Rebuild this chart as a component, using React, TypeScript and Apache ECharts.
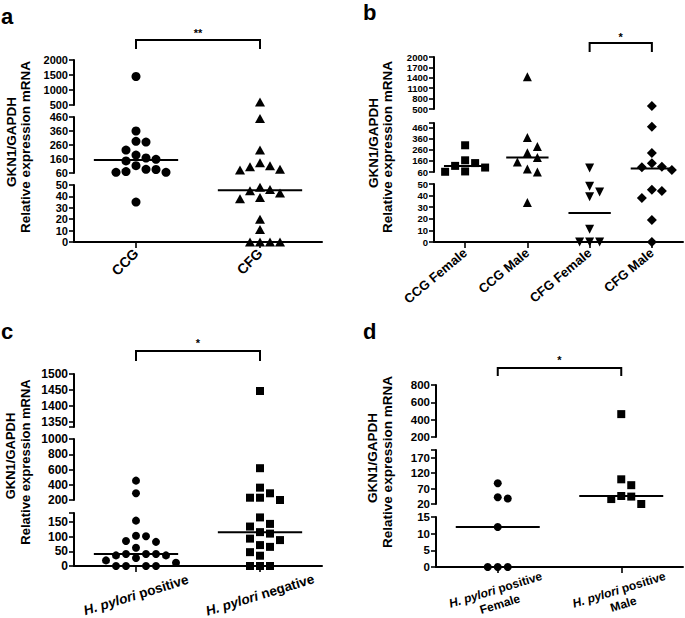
import React, { useEffect, useRef } from "react";
import * as echarts from "echarts";

const FONT = '"Liberation Sans", Arial, Helvetica, sans-serif';

// ---------------- data ----------------
const yTitleLines = ["GKN1/GAPDH", "Relative expression mRNA"];

// panel a
const aCategories = ["CCG", "CFG"];
const aCCG = [1450, 360, 286, 281, 224, 188, 167, 158, 146, 112, 86, 85, 70, 65, 65, 35];
const aCFG = [600, 450, 224, 134, 112, 105, 86, 81, 48, 46, 45, 43, 39, 38, 20, 11, 0, 0, 0, 0];
const aRanges = [[500, 2000], [60, 460], [0, 50]];
const aTickLabels = [[500, 1000, 1500, 2000], [60, 160, 260, 360, 460], [0, 10, 20, 30, 40, 50]];
const aSignif = "**";

// panel b
const bCategories = ["CCG Female", "CCG Male", "CFG Female", "CFG Male"];
const bCCGFemale = [300, 165, 140, 115, 100, 65, 62];
const bCCGMale = [1430, 369, 290, 233, 190, 149, 87, 60, 34];
const bCFGFemale = [95, 48, 43, 39, 11, 0, 0, 0];
const bCFGMale = [590, 466, 230, 139, 108, 103, 78, 45, 44, 38, 19, 0];
const bRanges = [[500, 2000], [60, 500], [0, 50]];
const bTickLabels = [[500, 800, 1100, 1400, 1700, 2000], [60, 160, 260, 360, 460], [0, 10, 20, 30, 40, 50]];
const bSignif = "*";

// panel c
const cCategories = ["H. pylori positive", "H. pylori negative"];
const cPositive = [454, 288, 154, 103, 101, 85, 82, 62, 41, 41, 41, 36, 36, 27, 19, 11, 0, 0, 0, 0];
const cNegative = [1447, 617, 362, 288, 230, 230, 200, 165, 143, 134, 115, 110, 93, 88, 71, 65, 47, 35, 0, 0, 0];
const cRanges = [[1335, 1500], [200, 1000], [0, 180]];
const cTickLabels = [[1350, 1400, 1450, 1500], [200, 400, 600, 800, 1000], [0, 50, 100, 150]];
const cSignif = "*";

// panel d
const dCategories = ["H. pylori positive\nFemale", "H. pylori positive\nMale"];
const dFemale = [87, 42, 38, 12, 0, 0, 0];
const dMale = [464, 100, 81, 46, 44, 36, 20];
const dRanges = [[200, 800], [20, 195], [0, 15]];
const dTickLabels = [[200, 400, 600, 800], [20, 70, 120, 170], [0, 5, 10, 15]];
const dSignif = "*";

// ---------------- layout / style ----------------
const SPACING = 10;
const MIN_DIST = 9.6;
const MED_HALF = 0.34;

const italicFmt = (v: string) => v.replace("H. pylori", "{i|H. pylori}");

const panels: any[] = [
  {
    letter: "a", letterXY: [1, 27],
    left: 74, width: 248,
    segPx: [[60, 105], [117, 173], [185, 242]],
    categories: aCategories,
    groups: [
      { values: aCCG, symbol: "circle", size: 9 },
      { values: aCFG, symbol: "triangle", size: [10, 9] },
    ],
    ranges: aRanges, ticks: aTickLabels, tickFont: 11,
    xl: { rotate: 45, align: "right", verticalAlign: "middle", margin: 9, fontSize: 14 },
    fmt: null,
    titleX: [11, 25], titleY: [142, 147], titleFont: 13.5,
    bracket: { pair: [0, 1], top: 40, bottom: 49, label: aSignif, labelY: 33 },
  },
  {
    letter: "b", letterXY: [363, 23.5],
    left: 434, width: 249,
    segPx: [[57, 109], [123, 172], [184, 242]],
    categories: bCategories,
    groups: [
      { values: bCCGFemale, symbol: "rect", size: 8 },
      { values: bCCGMale, symbol: "triangle", size: [9, 9] },
      { values: bCFGFemale, symbol: "triangle", size: [9, 9], rotate: 180 },
      { values: bCFGMale, symbol: "diamond", size: [10, 10] },
    ],
    ranges: bRanges, ticks: bTickLabels, tickFont: 9.5,
    xl: { rotate: 40, align: "right", verticalAlign: "middle", margin: 9, fontSize: 13 },
    fmt: null,
    titleX: [373.5, 387], titleY: [143, 147], titleFont: 13.5,
    bracket: { pair: [2, 3], top: 43, bottom: 52, label: bSignif, labelY: 37 },
  },
  {
    letter: "c", letterXY: [1, 342.5],
    left: 74, width: 248,
    segPx: [[374, 427], [439, 500], [513, 566]],
    categories: cCategories,
    groups: [
      { values: cPositive, symbol: "circle", size: 8 },
      { values: cNegative, symbol: "rect", size: 8 },
    ],
    ranges: cRanges, ticks: cTickLabels, tickFont: 12,
    xl: { rotate: 17, align: "center", verticalAlign: "middle", margin: 29, fontSize: 13.5 },
    fmt: italicFmt,
    titleX: [10.5, 25], titleY: [456, 462], titleFont: 13,
    bracket: { pair: [0, 1], top: 351, bottom: 361, label: cSignif, labelY: 343 },
  },
  {
    letter: "d", letterXY: [363, 342.5],
    left: 436, width: 247,
    segPx: [[385, 437], [450, 504], [517, 567]],
    categories: dCategories,
    groups: [
      { values: dFemale, symbol: "circle", size: 8 },
      { values: dMale, symbol: "rect", size: 8 },
    ],
    ranges: dRanges, ticks: dTickLabels, tickFont: 11.5,
    xl: { rotate: 17, align: "center", verticalAlign: "middle", margin: 30, fontSize: 12, lineHeight: 15 },
    fmt: italicFmt,
    titleX: [372, 387], titleY: [458, 462], titleFont: 13.5,
    bracket: { pair: [0, 1], top: 368, bottom: 376, label: dSignif, labelY: 360 },
  },
];

function segmentOf(ranges: number[][], v: number): number {
  let best = 0;
  let bestD = Infinity;
  ranges.forEach(([lo, hi], s) => {
    const d = v < lo ? lo - v : v > hi ? v - hi : 0;
    if (d < bestD) { bestD = d; best = s; }
  });
  return best;
}

function median(vals: number[]): number {
  const s = [...vals].sort((a, b) => a - b);
  const m = Math.floor(s.length / 2);
  return s.length % 2 ? s[m] : (s[m - 1] + s[m]) / 2;
}

function buildOption(offsets: number[][][] | null, bracketXs: number[][] | null) {
  const grid: any[] = [], xAxis: any[] = [], yAxis: any[] = [], series: any[] = [], graphic: any[] = [];
  const meta: any[] = [];
  panels.forEach((p, pi) => {
    const n = p.categories.length;
    const xIdx: number[] = [], yIdx: number[] = [];
    p.segPx.forEach(([top, bottom]: number[], s: number) => {
      const gi = grid.length;
      grid.push({ left: p.left, top, width: p.width, height: bottom - top, containLabel: false, outerBoundsMode: "none" });
      xIdx.push(xAxis.length);
      xAxis.push({ type: "value", gridIndex: gi, min: -0.5, max: n - 0.5, show: false, position: "bottom" });
      yIdx.push(yAxis.length);
      const [lo, hi] = p.ranges[s];
      const labels = p.ticks[s];
      const tickVals = Array.from(new Set([lo, ...labels, hi]));
      yAxis.push({
        type: "value", gridIndex: gi, min: lo, max: hi, position: "left",
        axisLine: { show: true, onZero: false, lineStyle: { color: "#000", width: 2 } },
        axisTick: { show: true, customValues: tickVals, length: 5, inside: false, lineStyle: { color: "#000", width: 1.6 } },
        axisLabel: {
          show: true, customValues: labels, showMinLabel: true, showMaxLabel: true, hideOverlap: false,
          formatter: (v: number) => String(v),
          margin: 6, color: "#000", fontFamily: FONT, fontWeight: "bold", fontSize: p.tickFont,
        },
        splitLine: { show: false },
      });
    });
    const bottomGrid = grid.length - 1;
    const xl = p.xl;
    xAxis.push({
      type: "category", gridIndex: bottomGrid, position: "bottom", data: p.categories, boundaryGap: true,
      axisLine: { show: true, onZero: false, lineStyle: { color: "#000", width: 2 } },
      axisTick: { show: true, alignWithLabel: true, length: 6, lineStyle: { color: "#000", width: 1.6 } },
      axisLabel: {
        interval: 0, rotate: xl.rotate, align: xl.align, verticalAlign: xl.verticalAlign, margin: xl.margin,
        color: "#000", fontFamily: FONT, fontWeight: "bold", fontSize: xl.fontSize, lineHeight: xl.lineHeight,
        formatter: p.fmt || undefined,
        rich: { i: { fontStyle: "italic", fontWeight: "bold", fontFamily: FONT, fontSize: xl.fontSize, color: "#000", lineHeight: xl.lineHeight } },
      },
      splitLine: { show: false },
    });
    meta.push({ xIdx, yIdx });

    p.groups.forEach((g: any, gi: number) => {
      const segData: number[][][] = p.segPx.map(() => []);
      g.values.forEach((v: number, k: number) => {
        const s = segmentOf(p.ranges, v);
        const off = offsets ? offsets[pi][gi][k] : 0;
        segData[s].push([gi + off, v]);
      });
      segData.forEach((d, s) => {
        if (!d.length) return;
        series.push({
          type: "scatter", xAxisIndex: xIdx[s], yAxisIndex: yIdx[s], data: d,
          symbol: g.symbol, symbolSize: g.size, symbolRotate: g.rotate || 0,
          itemStyle: { color: "#000", opacity: 1 }, silent: true, clip: false, z: 3,
        });
      });
      const med = median(g.values);
      const ms = segmentOf(p.ranges, med);
      series.push({
        type: "line", xAxisIndex: xIdx[ms], yAxisIndex: yIdx[ms],
        data: [[gi - MED_HALF, med], [gi + MED_HALF, med]],
        symbol: "none", lineStyle: { color: "#000", width: 2 }, silent: true, z: 2,
      });
    });

    graphic.push({
      type: "text", x: p.letterXY[0], y: p.letterXY[1], silent: true,
      style: { text: p.letter, font: `bold 22px ${FONT}`, fill: "#000", textAlign: "left", textVerticalAlign: "bottom" },
    });
    yTitleLines.forEach((t, li) => {
      graphic.push({
        type: "text", x: p.titleX[li], y: p.titleY[li], rotation: Math.PI / 2, silent: true,
        style: { text: t, font: `bold ${p.titleFont}px ${FONT}`, fill: "#000", textAlign: "center", textVerticalAlign: "middle" },
      });
    });
    if (bracketXs) {
      const [x1, x2] = bracketXs[pi];
      const b = p.bracket;
      graphic.push({
        type: "polyline", silent: true,
        shape: { points: [[x1, b.bottom], [x1, b.top], [x2, b.top], [x2, b.bottom]] },
        style: { stroke: "#000", lineWidth: 2, fill: null },
      });
      graphic.push({
        type: "text", x: (x1 + x2) / 2, y: b.labelY, silent: true,
        style: { text: b.label, font: `bold 11px ${FONT}`, fill: "#000", textAlign: "center", textVerticalAlign: "middle" },
      });
    }
  });
  return {
    option: { animation: false, backgroundColor: "#fff", grid, xAxis, yAxis, series, graphic },
    meta,
  };
}

function computeOffsets(chart: any, meta: any[]): number[][][] {
  return panels.map((p, pi) => {
    const m = meta[pi];
    const bx = m.xIdx[m.xIdx.length - 1];
    const band = chart.convertToPixel({ xAxisIndex: bx }, 1) - chart.convertToPixel({ xAxisIndex: bx }, 0);
    return p.groups.map((g: any) => {
      const placed: number[][] = [];
      return g.values.map((v: number) => {
        const s = segmentOf(p.ranges, v);
        const y = chart.convertToPixel({ yAxisIndex: m.yIdx[s] }, v);
        let chosen = 0;
        for (let k = 0; k < 15; k++) {
          const slot = k === 0 ? 0 : k % 2 === 1 ? (k + 1) / 2 : -k / 2;
          const x = slot * SPACING;
          if (placed.every((q) => Math.hypot(q[0] - x, q[1] - y) >= MIN_DIST)) { chosen = x; break; }
        }
        placed.push([chosen, y]);
        return chosen / band;
      });
    });
  });
}

function computeBrackets(chart: any, meta: any[]): number[][] {
  return panels.map((p, pi) => {
    const xi = meta[pi].xIdx[0];
    return p.bracket.pair.map((c: number) => chart.convertToPixel({ xAxisIndex: xi }, c));
  });
}

export default function App() {
  const ref = useRef<HTMLDivElement>(null);
  useEffect(() => {
    const el = ref.current as HTMLDivElement;
    const chart = echarts.init(el, null, { renderer: "svg", width: 685, height: 618 });
    const first = buildOption(null, null);
    chart.setOption(first.option as any);
    const offsets = computeOffsets(chart, first.meta);
    const brackets = computeBrackets(chart, first.meta);
    const second = buildOption(offsets, brackets);
    chart.setOption(second.option as any, { notMerge: true });
    return () => chart.dispose();
  }, []);
  return (
    <div
      ref={ref}
      style={{ position: "fixed", left: 0, top: 0, width: 685, height: 618, background: "#fff" }}
    />
  );
}
